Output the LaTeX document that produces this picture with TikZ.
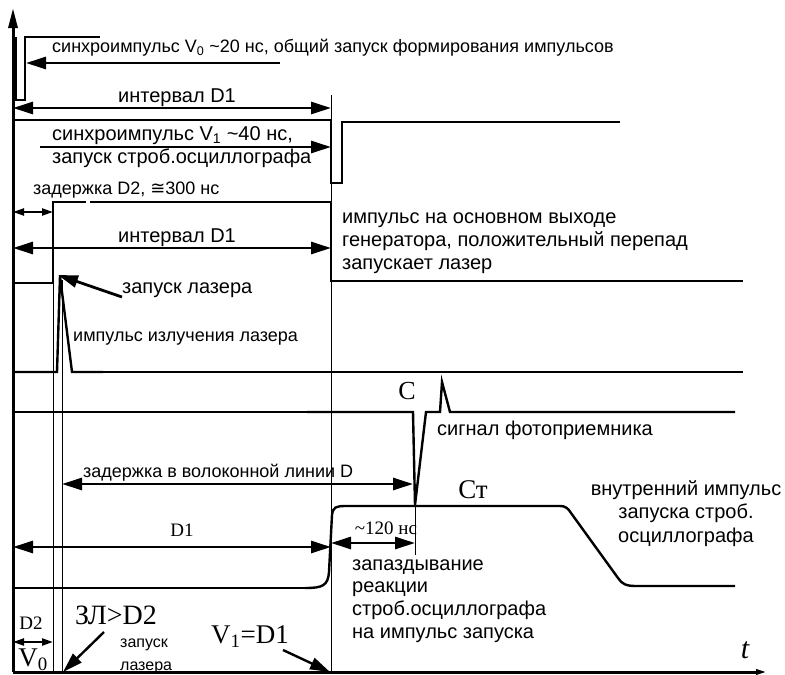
\documentclass[tikz,border=0pt]{standalone}
\usepackage{fontspec}
\setmainfont{Liberation Sans}
\newfontfamily\serf{Liberation Serif}
\newfontfamily\dvs{DejaVu Sans}
\usetikzlibrary{arrows.meta}
\begin{document}
\begin{tikzpicture}[x=1pt,y=-1pt,
  sig/.style={line width=2.4pt, line join=miter},
  thinsig/.style={line width=1.1pt},
  guide/.style={line width=0.7pt},
  bigtip/.tip={Triangle[length=20pt,width=12pt]},
  smalltip/.tip={Triangle[length=11pt,width=7pt]},
  arr/.style={line width=2.8pt, -bigtip},
  darr/.style={line width=2.8pt, bigtip-bigtip},
  sdarr/.style={line width=2.2pt, smalltip-smalltip},
  lbl/.style={inner sep=0pt, text height=14pt, text depth=4pt, font=\fontsize{20}{23}\selectfont},
  slbl/.style={inner sep=0pt, text height=13pt, text depth=3.6pt, font=\fontsize{18}{21}\selectfont},
  sflbl/.style={inner sep=0pt, font=\serf\fontsize{#1}{#1}\selectfont},
]
\useasboundingbox (0,0) rectangle (785,675);

% key coordinates
\coordinate (O) at (13,672);
\coordinate (Ytop) at (13,8);
\coordinate (Xend) at (768,672);

% axes
\draw[line width=3pt, -{Triangle[length=20pt,width=9pt]}] (O) -- (Ytop);
\draw[line width=3pt, -{Triangle[length=12pt,width=5pt]}] (O) -- (Xend);

% guide verticals
\draw[guide] (53,202) -- (53,672);
\draw[guide] (62,280) -- (62,672);
\draw[guide] (331,95) -- (331,672);
\draw[guide] (415,503) -- (415,555);

% V0 sync pulse
\draw[line width=1.6pt] (16,37) -- (16,100) -- (25,100) -- (25,37) -- (100,37);

% V1 sync pulse
\draw[thinsig] (13,120) -- (331,120);
\draw[sig] (13,120) -- (75,120);
\draw[sig] (331,120) -- (331,183) -- (342,183) -- (342,122) -- (620,122);

% generator main output
\draw[sig] (13,283) -- (53,283) -- (53,202) -- (86,202);
\draw[thinsig] (90,202) -- (331,202);
\draw[sig] (331,201) -- (331,281) -- (743,281);

% laser emission
\draw[sig] (13,372) -- (57,372) -- (60,276) -- (72,372) -- (103,372);
\draw[thinsig] (103,372) -- (311,372);
\draw[sig] (311,372) -- (743,372);

% photodetector signal
\draw[sig] (13,412) -- (90,412);
\draw[thinsig] (90,412) -- (307,412);
\draw[sig] (307,412) -- (413,412) -- (415,505) -- (426,412) -- (440,412) -- (442,382) -- (450,412) -- (735,412);

% internal strobe pulse
\draw[sig] (13,588) -- (92,588);
\draw[thinsig] (92,588) -- (305,588);
\draw[sig] (305,588) .. controls (322,588) and (328,586) .. (329,572)
  -- (332,515) .. controls (333,507) and (336,506) .. (346,506)
  -- (560,506) .. controls (565,506) and (568,508) .. (571,513)
  -- (618,578) .. controls (622,584) and (626,586) .. (636,586) -- (735,586);

% arrows
\coordinate (a0s) at (280,63); \coordinate (a0e) at (26,63);
\draw[arr] (a0s) -- (a0e);
\coordinate (d1a) at (13,108); \coordinate (d1b) at (331,108);
\draw[darr] (d1a) -- (d1b);
\coordinate (v1s) at (40,147); \coordinate (v1e) at (331,147);
\draw[arr] (v1s) -- (v1e);
\coordinate (d2a) at (13,212); \coordinate (d2b) at (53,212);
\draw[sdarr] (d2a) -- (d2b);
\coordinate (d1c) at (13,248); \coordinate (d1d) at (331,248);
\draw[darr] (d1c) -- (d1d);
\coordinate (lzs) at (122,297); \coordinate (lze) at (58,275);
\draw[arr] (lzs) -- (lze);
\coordinate (fda) at (62,484); \coordinate (fdb) at (413,484);
\draw[darr] (fda) -- (fdb);
\coordinate (d1e) at (13,547); \coordinate (d1f) at (331,547);
\draw[darr] (d1e) -- (d1f);
\coordinate (dla) at (331,543); \coordinate (dlb) at (415,543);
\draw[darr] (dla) -- (dlb);
\coordinate (d2c) at (13,642); \coordinate (d2d) at (53,642);
\draw[sdarr] (d2c) -- (d2d);
\coordinate (zls) at (104,632); \coordinate (zle) at (63,672);
\draw[arr, line width=2.4pt] (zls) -- (zle);
\coordinate (vds) at (283,650); \coordinate (vde) at (330,672);
\draw[arr, line width=2.4pt] (vds) -- (vde);

% labels
\node[slbl, anchor=west] (t1) at (52,48) {синхроимпульс V\textsubscript{0} \textasciitilde 20 нс, общий запуск формирования импульсов};
\node[lbl] (t2) at (177,97) {интервал D1};
\node[lbl, anchor=west] (t3) at (52,135) {синхроимпульс V\textsubscript{1} \textasciitilde 40 нс,};
\node[lbl, anchor=west] (t4) at (52,158) {запуск строб.осциллографа};
\node[slbl, anchor=west] (t5) at (33,190) {задержка D2, {\dvs ≅}300 нс};
\node[lbl] (t6) at (177,237) {интервал D1};
\node[lbl, anchor=west] (t7) at (342,218) {импульс на основном выходе};
\node[lbl, anchor=west] (t8) at (342,241) {генератора, положительный перепад};
\node[lbl, anchor=west] (t9) at (342,264) {запускает лазер};
\node[lbl, anchor=west] (t10) at (122,288) {запуск лазера};
\node[slbl, anchor=west] (t11) at (73,337) {импульс излучения лазера};
\node[sflbl=26] (tC) at (407,391) {C};
\node[lbl, anchor=west] (t12) at (437,430) {сигнал фотоприемника};
\node[slbl, anchor=west] (t13) at (83,473) {задержка в волоконной линии D};
\node[sflbl=27] (tCt) at (473,490) {Ст};
\node[lbl, align=center, font=\fontsize{20}{23.5}\selectfont] (t14) at (686,537) {внутренний импульс\\запуска строб.\\осциллографа};
\node[sflbl=19] (t15) at (386,528) {\textasciitilde 120 нс};
\node[sflbl=19] (t16) at (182,530) {D1};
\node[inner sep=0pt, anchor=west, align=left, font=\fontsize{20}{22.7}\selectfont] (t17) at (352,601) {запаздывание\\реакции\\строб.осциллографа\\на импульс запуска};
\node[sflbl=19] (t18) at (31,623) {D2};
\node[sflbl=27] (t19) at (33,660) {V\textsubscript{0}};
\node[sflbl=28] (t20) at (116,615) {ЗЛ>D2};
\node[inner sep=0pt, anchor=west, align=left, font=\fontsize{16}{23}\selectfont] (t21) at (120,656) {запуск\\лазера};
\node[sflbl=27] (t22) at (250,637) {V\textsubscript{1}=D1};
\node[inner sep=0pt, font=\serf\itshape\fontsize{30}{30}\selectfont] (t23) at (745,650) {t};
\end{tikzpicture}
\end{document}
